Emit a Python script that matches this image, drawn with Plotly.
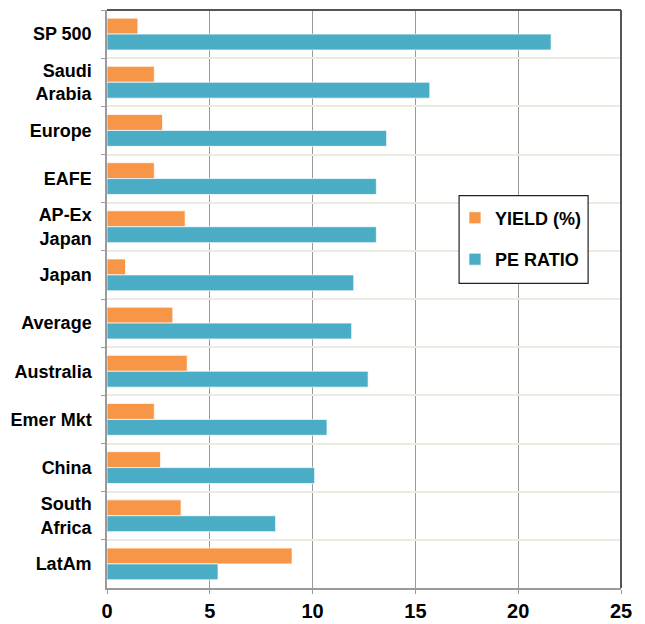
import plotly.graph_objects as go

categories = ["SP 500", "Saudi<br>Arabia", "Europe", "EAFE", "AP-Ex<br>Japan", "Japan",
              "Average", "Australia", "Emer Mkt", "China", "South<br>Africa", "LatAm"]
yield_pct = [1.5, 2.3, 2.7, 2.3, 3.8, 0.9, 3.2, 3.9, 2.3, 2.6, 3.6, 9.0]
pe_ratio = [21.6, 15.7, 13.6, 13.1, 13.1, 12.0, 11.9, 12.7, 10.7, 10.1, 8.2, 5.4]
x_ticks = [0, 5, 10, 15, 20, 25]

FONT = "Liberation Sans, Arial, Helvetica, sans-serif"

fig = go.Figure()
fig.add_trace(go.Bar(
    y=categories, x=yield_pct, orientation="h", name="YIELD (%)",
    marker=dict(color="#F79646", line=dict(color="rgba(255,255,255,0.7)", width=1)),
    legendgroup="a",
))
fig.add_trace(go.Bar(
    y=categories, x=pe_ratio, orientation="h", name="PE RATIO",
    marker=dict(color="#4BACC6", line=dict(color="rgba(255,255,255,0.7)", width=1)),
    legendgroup="b",
))

fig.update_layout(
    width=637, height=616,
    margin=dict(l=99, r=24, t=2, b=31),
    paper_bgcolor="white", plot_bgcolor="white",
    barmode="group", bargap=0.34, bargroupgap=0,
    font=dict(family=FONT, color="black"),
    legend=dict(
        x=0.677, y=0.672, xanchor="left", yanchor="top",
        bgcolor="rgba(0,0,0,0)", borderwidth=0,
        font=dict(family=FONT, size=18, color="black", weight="bold"),
        traceorder="grouped", tracegroupgap=15,
        itemwidth=30,
    ),
    xaxis=dict(
        range=[0, 25], tickvals=x_ticks, ticktext=[str(v) for v in x_ticks],
        showgrid=True, gridcolor="#9a9a9a", gridwidth=1.3,
        showline=True, linecolor="#9a9a9a", linewidth=1.5,
        ticks="outside", ticklen=4, tickcolor="#9a9a9a",
        tickfont=dict(family=FONT, size=20, color="black", weight="bold"),
        zeroline=False, fixedrange=True,
    ),
    yaxis=dict(
        autorange="reversed",
        showgrid=True, gridcolor="#ebebe0", gridwidth=1.5,
        showline=True, linecolor="#9a9a9a", linewidth=1.5,
        ticks="outside", ticklen=4, tickcolor="#9a9a9a", tickson="boundaries",
        tickfont=dict(family=FONT, size=18, color="black", weight="bold"),
        ticklabelstandoff=10,
        fixedrange=True,
    ),
    shapes=[
        dict(type="line", xref="paper", yref="paper", x0=0, x1=1, y0=1, y1=1,
             line=dict(color="#555", width=2)),
        dict(type="line", xref="paper", yref="paper", x0=1, x1=1, y0=0, y1=1,
             line=dict(color="#555", width=2)),
        dict(type="rect", xref="paper", yref="paper", x0=0.685, x1=0.936, y0=0.527, y1=0.679,
             fillcolor="white", line=dict(color="#222", width=1.2), layer="above"),
    ],
)

fig.write_html("out.html")
